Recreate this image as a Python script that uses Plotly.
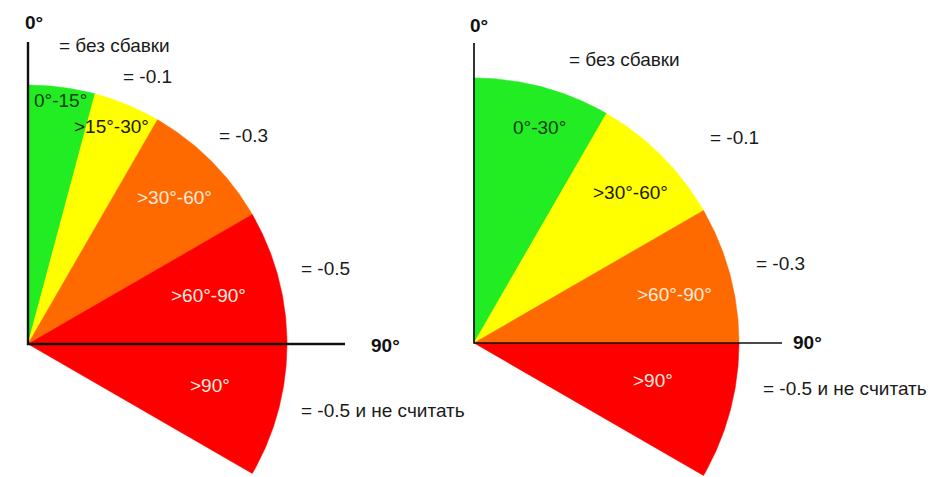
import numpy as np
import plotly.graph_objects as go

# ---------------- data ----------------
# left diagram: angle bands (degrees from the 0° axis, clockwise)
left_start = [0, 15, 30, 60, 90]
left_end = [15, 30, 60, 90, 120]
left_labels = ["0°-15°", ">15°-30°", ">30°-60°", ">60°-90°", ">90°"]
left_deductions = ["= без сбавки", "= -0.1", "= -0.3", "= -0.5", "= -0.5 и не считать"]

# right diagram
right_start = [0, 30, 60, 90]
right_end = [30, 60, 90, 120]
right_labels = ["0°-30°", ">30°-60°", ">60°-90°", ">90°"]
right_deductions = ["= без сбавки", "= -0.1", "= -0.3", "= -0.5 и не считать"]

axis_labels = ["0°", "90°"]

# ---------------- styles / layout ----------------
W, H = 944, 477
FONT = "Liberation Sans, Arial, sans-serif"
FS = 19
GREEN, YELLOW, ORANGE, RED = "#22ec22", "#ffff00", "#ff6a00", "#ff0000"
left_colors = [GREEN, YELLOW, ORANGE, RED, RED]
right_colors = [GREEN, YELLOW, ORANGE, RED]
left_text_colors = ["#143c14", "#1a1a00", "#ffeadf", "#ffeadf", "#ffeadf"]
right_text_colors = ["#143c14", "#1a1a00", "#ffeadf", "#ffeadf"]

LC, LR = (28, 344), 259
RC, RR = (474, 343), 265

# label placement (angle, fraction of radius)
left_lab_pos = [(7.5, 0.95), (21, 0.90), (45, 0.80), (75, 0.72), (103, 0.72)]
right_lab_pos = [(17, 0.85), (46, 0.82), (76.5, 0.78), (101.7, 0.69)]

# deduction text positions (left x, centre y)
left_ded_pos = [(57, 45), (121, 76), (217, 135), (299, 268), (299, 410)]
right_ded_pos = [(567, 59), (708, 137), (754, 263), (761, 388)]


def polar_xy(center, r, ang_deg):
    a = np.radians(ang_deg)
    return center[0] + r * np.sin(a), center[1] - r * np.cos(a)


def wedge(center, r, a0, a1):
    angs = np.linspace(a0, a1, 80)
    xs, ys = polar_xy(center, r, angs)
    xs = np.concatenate([[center[0]], xs, [center[0]]])
    ys = np.concatenate([[center[1]], ys, [center[1]]])
    return xs, ys


fig = go.Figure()

for starts, ends, colors, center, r in [
    (left_start, left_end, left_colors, LC, LR),
    (right_start, right_end, right_colors, RC, RR),
]:
    for a0, a1, col in zip(starts, ends, colors):
        xs, ys = wedge(center, r, a0, a1)
        fig.add_trace(go.Scatter(x=xs, y=ys, mode="lines", fill="toself",
                                 fillcolor=col, line=dict(color=col, width=0.5),
                                 hoverinfo="skip", showlegend=False))

# axes lines
for center, top_y, right_x, w in [(LC, 42, 345, 2.4), (RC, 43, 782, 1.7)]:
    fig.add_trace(go.Scatter(x=[center[0], center[0], right_x],
                             y=[top_y, center[1], center[1]],
                             mode="lines", line=dict(color="#111111", width=w),
                             hoverinfo="skip", showlegend=False))

annotations = []
# inside labels
for labels, pos, tcols, center, r in [
    (left_labels, left_lab_pos, left_text_colors, LC, LR),
    (right_labels, right_lab_pos, right_text_colors, RC, RR),
]:
    for lab, (ang, frac), tc in zip(labels, pos, tcols):
        x, y = polar_xy(center, r * frac, ang)
        annotations.append(dict(x=x, y=y, text=lab, showarrow=False,
                                font=dict(family=FONT, size=FS, color=tc),
                                xanchor="center", yanchor="middle"))

# deduction labels
for deds, pos in [(left_deductions, left_ded_pos), (right_deductions, right_ded_pos)]:
    for d, (x, y) in zip(deds, pos):
        annotations.append(dict(x=x, y=y, text=d, showarrow=False,
                                font=dict(family=FONT, size=FS, color="#1a1a1a"),
                                xanchor="left", yanchor="middle"))

# axis labels
for (x, y), t in [((34, 22), axis_labels[0]), ((385, 345), axis_labels[1]),
                  ((479, 25), axis_labels[0]), ((807, 342), axis_labels[1])]:
    annotations.append(dict(x=x, y=y, text="<b>%s</b>" % t, showarrow=False,
                            font=dict(family=FONT, size=19, color="#111111"),
                            xanchor="center", yanchor="middle"))

fig.update_layout(
    width=W, height=H,
    margin=dict(l=0, r=0, t=0, b=0),
    paper_bgcolor="white", plot_bgcolor="white",
    xaxis=dict(range=[0, W], visible=False, fixedrange=True),
    yaxis=dict(range=[H, 0], visible=False, fixedrange=True),
    annotations=annotations,
    showlegend=False,
)

fig.write_html("out.html", config={"displayModeBar": False},
               post_script="document.body.style.margin='0';document.body.style.overflow='hidden';")
